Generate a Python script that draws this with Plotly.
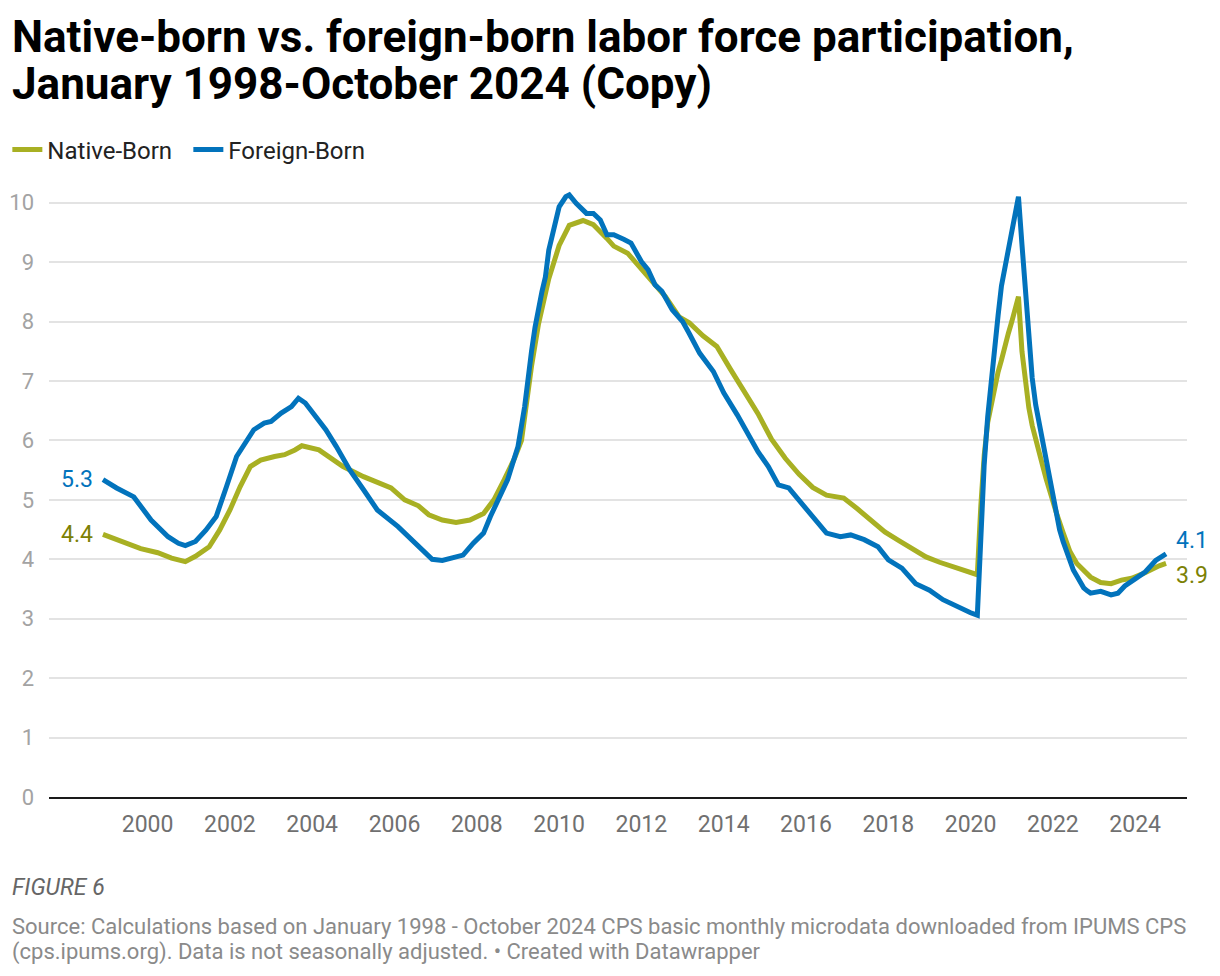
import plotly.graph_objects as go

# 12-month figures (percent)
native_dates = [
    "1998-12", "1999-04", "1999-08", "1999-11", "2000-04", "2000-08", "2000-12",
    "2001-03", "2001-07", "2001-10", "2002-01", "2002-04", "2002-07", "2002-10",
    "2003-02", "2003-05", "2003-08", "2003-10", "2004-03", "2004-06", "2004-10",
    "2005-04", "2005-09", "2005-12", "2006-04", "2006-08", "2006-11", "2007-03",
    "2007-07", "2007-11", "2008-03", "2008-06", "2008-09", "2008-12", "2009-02",
    "2009-04", "2009-05", "2009-07", "2009-10", "2010-01", "2010-04", "2010-08",
    "2010-11", "2011-03", "2011-05", "2011-09", "2011-12", "2012-04", "2012-08",
    "2012-12", "2013-03", "2013-07", "2013-11", "2014-03", "2014-07", "2014-11",
    "2015-03", "2015-07", "2015-11", "2016-03", "2016-07", "2016-12", "2017-04",
    "2017-08", "2017-12", "2018-04", "2018-08", "2018-12", "2019-04", "2019-08",
    "2019-12", "2020-03", "2020-04", "2020-05", "2020-06", "2020-07", "2020-08",
    "2020-09", "2020-10", "2020-11", "2020-12", "2021-01", "2021-02", "2021-03",
    "2021-04", "2021-05", "2021-06", "2021-07", "2021-08", "2021-09", "2021-10",
    "2021-11", "2021-12", "2022-01", "2022-02", "2022-04", "2022-06", "2022-08",
    "2022-10", "2022-12", "2023-03", "2023-06", "2023-09", "2023-12", "2024-03",
    "2024-06", "2024-08", "2024-10",
]
native_vals = [
    4.42, 4.33, 4.26, 4.18, 4.11, 4.02, 3.96,
    4.05, 4.21, 4.49, 4.83, 5.22, 5.56, 5.67,
    5.73, 5.76, 5.84, 5.91, 5.84, 5.73, 5.56,
    5.39, 5.28, 5.20, 5.00, 4.90, 4.75, 4.66,
    4.62, 4.66, 4.77, 5.00, 5.34, 5.70, 6.00,
    6.85, 7.25, 7.95, 8.72, 9.28, 9.62, 9.70,
    9.63, 9.40, 9.27, 9.15, 8.95, 8.70, 8.42,
    8.08, 7.98, 7.76, 7.58, 7.20, 6.82, 6.45,
    6.02, 5.70, 5.43, 5.21, 5.08, 5.03, 4.85,
    4.66, 4.46, 4.32, 4.17, 4.04, 3.95, 3.87,
    3.80, 3.74, 4.90, 5.75, 6.30, 6.60, 6.90,
    7.15, 7.35, 7.60, 7.80, 8.00, 8.20, 8.42,
    7.50, 6.95, 6.55, 6.25, 6.00, 5.80, 5.58,
    5.36, 5.15, 4.97, 4.78, 4.45, 4.13, 3.93,
    3.80, 3.70, 3.61, 3.59, 3.65, 3.68, 3.75,
    3.84, 3.89, 3.93,
]

foreign_dates = [
    "1998-12", "1999-04", "1999-09", "2000-02", "2000-07", "2000-10", "2000-12",
    "2001-03", "2001-06", "2001-09", "2001-12", "2002-03", "2002-08", "2002-11",
    "2003-01", "2003-04", "2003-07", "2003-09", "2003-11", "2004-02", "2004-05",
    "2004-08", "2004-12", "2005-04", "2005-08", "2006-02", "2006-06", "2006-09",
    "2006-12", "2007-03", "2007-06", "2007-09", "2007-12", "2008-03", "2008-05",
    "2008-08", "2008-10", "2009-01", "2009-03", "2009-05", "2009-06", "2009-08",
    "2009-09", "2009-10", "2010-01", "2010-03", "2010-04", "2010-06", "2010-09",
    "2010-11", "2011-01", "2011-03", "2011-05", "2011-08", "2011-10", "2012-01",
    "2012-03", "2012-05", "2012-07", "2012-10", "2013-01", "2013-03", "2013-06",
    "2013-10", "2014-01", "2014-05", "2014-08", "2014-11", "2015-02", "2015-05",
    "2015-08", "2015-11", "2016-03", "2016-07", "2016-11", "2017-02", "2017-06",
    "2017-10", "2018-01", "2018-05", "2018-09", "2019-01", "2019-05", "2019-09",
    "2020-01", "2020-03", "2020-04", "2020-05", "2020-06", "2020-07", "2020-08",
    "2020-09", "2020-10", "2020-11", "2020-12", "2021-01", "2021-02", "2021-03",
    "2021-04", "2021-05", "2021-06", "2021-07", "2021-08", "2021-09", "2021-10",
    "2021-11", "2021-12", "2022-01", "2022-02", "2022-03", "2022-04", "2022-05",
    "2022-06", "2022-07", "2022-08", "2022-09", "2022-10", "2022-11", "2022-12",
    "2023-03", "2023-06", "2023-08", "2023-10", "2024-01", "2024-04", "2024-07",
    "2024-10",
]
foreign_vals = [
    5.34, 5.20, 5.05, 4.66, 4.38, 4.27, 4.23,
    4.30, 4.49, 4.72, 5.22, 5.73, 6.18, 6.29,
    6.32, 6.46, 6.57, 6.71, 6.63, 6.40, 6.18,
    5.90, 5.50, 5.17, 4.83, 4.55, 4.33, 4.16,
    4.00, 3.98, 4.03, 4.07, 4.27, 4.44, 4.72,
    5.11, 5.34, 5.90, 6.57, 7.50, 7.90, 8.50,
    8.75, 9.20, 9.93, 10.10, 10.13, 9.99, 9.82,
    9.82, 9.71, 9.46, 9.46, 9.38, 9.32, 9.01,
    8.87, 8.62, 8.51, 8.20, 8.00, 7.80, 7.47,
    7.16, 6.80, 6.43, 6.12, 5.81, 5.56, 5.25,
    5.20, 5.00, 4.72, 4.44, 4.38, 4.41, 4.33,
    4.21, 3.99, 3.85, 3.59, 3.48, 3.32, 3.20,
    3.10, 3.06, 4.60, 5.60, 6.40, 7.00, 7.60,
    8.10, 8.60, 8.90, 9.20, 9.50, 9.80, 10.10,
    9.30, 8.60, 7.80, 7.05, 6.60, 6.30, 6.00,
    5.65, 5.34, 5.05, 4.78, 4.50, 4.30, 4.15,
    3.95, 3.82, 3.72, 3.60, 3.52, 3.47, 3.43,
    3.46, 3.40, 3.43, 3.55, 3.67, 3.79, 3.98,
    4.09,
]

year_ticks = [str(y) for y in range(2000, 2025, 2)]
y_ticks = list(range(0, 11))

title_lines = [
    "Native-born vs. foreign-born labor force participation,",
    "January 1998-October 2024 (Copy)",
]
source_lines = [
    "Source: Calculations based on January 1998 - October 2024 CPS basic monthly microdata downloaded from IPUMS CPS",
    "(cps.ipums.org). Data is not seasonally adjusted. \u2022 Created with Datawrapper",
]

OLIVE = "#a8b023"
OLIVE_TXT = "#7c8104"
BLUE = "#0273bc"
FONT = "Roboto"

fig = go.Figure()

fig.add_trace(go.Scatter(
    x=native_dates, y=native_vals, name="Native-Born", mode="lines",
    line=dict(color=OLIVE, width=5)
))
fig.add_trace(go.Scatter(
    x=foreign_dates, y=foreign_vals, name="Foreign-Born", mode="lines",
    line=dict(color=BLUE, width=5)
))

# start / end value labels
fig.add_annotation(x=foreign_dates[0], y=foreign_vals[0], text=f"{foreign_vals[0]:.1f}",
                   xanchor="right", showarrow=False, xshift=-8,
                   font=dict(family=FONT, size=23, color=BLUE))
fig.add_annotation(x=native_dates[0], y=native_vals[0], text=f"{native_vals[0]:.1f}",
                   xanchor="right", showarrow=False, xshift=-8,
                   font=dict(family=FONT, size=23, color=OLIVE_TXT))
fig.add_annotation(x=foreign_dates[-1], y=foreign_vals[-1], text=f"{foreign_vals[-1]:.1f}",
                   xanchor="left", showarrow=False, xshift=8, yshift=13,
                   font=dict(family=FONT, size=23, color=BLUE))
fig.add_annotation(x=native_dates[-1], y=native_vals[-1], text=f"{native_vals[-1]:.1f}",
                   xanchor="left", showarrow=False, xshift=8, yshift=-12,
                   font=dict(family=FONT, size=23, color=OLIVE_TXT))

# title (two lines, tight leading)
for txt, yp in zip(title_lines, [1.2180, 1.1430]):
    fig.add_annotation(xref="paper", yref="paper", x=-0.0343, y=yp, xanchor="left",
                       yanchor="middle", showarrow=False, text=txt,
                       font=dict(family=FONT, size=44, color="#000000", weight=700))

# footer
fig.add_annotation(xref="paper", yref="paper", x=-0.0343, y=-0.1458, xanchor="left",
                   yanchor="middle", showarrow=False, text="<i>FIGURE 6</i>",
                   font=dict(family=FONT, size=23, color="#666666"))
for txt, yp in zip(source_lines, [-0.2083, -0.2484]):
    fig.add_annotation(xref="paper", yref="paper", x=-0.0343, y=yp, xanchor="left",
                       yanchor="middle", showarrow=False, text=txt,
                       font=dict(family=FONT, size=22, color="#8a8a8a"))

fig.update_layout(
    width=1220, height=976,
    margin=dict(l=49, r=33, t=173, b=179, autoexpand=False),
    paper_bgcolor="white", plot_bgcolor="white",
    font=dict(family=FONT),
    legend=dict(
        orientation="h", x=-0.0366, xanchor="left", y=1.037, yanchor="middle",
        font=dict(family=FONT, size=24, color="#222222"), itemwidth=30,
        entrywidth=136, entrywidthmode="pixels",
        traceorder="normal", bgcolor="rgba(0,0,0,0)",
    ),
    showlegend=True,
)

fig.update_xaxes(
    type="date", range=["1997-08-09", "2025-04-05"],
    tickvals=[f"{y}-01-01" for y in year_ticks], ticktext=year_ticks,
    showgrid=False, showline=True, linecolor="#1a1a1a", linewidth=2,
    ticks="", ticklabelstandoff=5,
    tickfont=dict(family=FONT, size=23, color="#707070"),
)
fig.update_yaxes(
    range=[0, 10.5], tickvals=y_ticks,
    showgrid=True, gridcolor="#e3e3e3", gridwidth=2, zeroline=False,
    ticks="", ticklabelstandoff=14,
    tickfont=dict(family=FONT, size=22, color="#a3a3a3"),
)

fig.write_html("out.html", config={"displayModeBar": False},
               post_script="document.body.style.margin='0';")
